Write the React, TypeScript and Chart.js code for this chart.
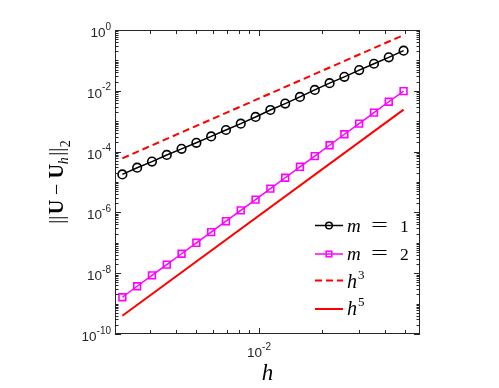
import React, { useEffect, useRef } from "react";
import { Chart, registerables } from "chart.js";

Chart.register(...registerables);

// ---- data ----
const hVals = [0.002223, 0.002616, 0.003079, 0.003623, 0.004264, 0.005019, 0.005906, 0.006951, 0.008181, 0.009628, 0.01133, 0.01334, 0.01569, 0.01847, 0.02174, 0.02558, 0.03011, 0.03543, 0.0417, 0.04908];
const errM1 = [1.78e-5, 2.95e-5, 4.68e-5, 7.76e-5, 1.23e-4, 1.95e-4, 3.16e-4, 5.13e-4, 8.32e-4, 1.38e-3, 2.34e-3, 3.8e-3, 6.31e-3, 1.07e-2, 1.78e-2, 2.88e-2, 4.79e-2, 7.76e-2, 0.126, 0.209];
const errM2 = [1.62e-9, 3.72e-9, 8.51e-9, 1.91e-8, 4.37e-8, 1.0e-7, 2.24e-7, 5.13e-7, 1.17e-6, 2.63e-6, 6.03e-6, 1.38e-5, 3.16e-5, 7.08e-5, 1.62e-4, 3.72e-4, 8.32e-4, 1.91e-3, 4.37e-3, 9.77e-3];
const refH = [0.002223, 0.04908];
const refH3 = [6.0e-5, 0.68];
const refH5 = [4.0e-10, 2.4e-3];

const xMin = 0.00205;
const xMax = 0.0588;
const yMin = 1e-10;
const yMax = 1;
const yTickExps = [0, -2, -4, -6, -8, -10];
const xTickExps = [-2];
const legendLabels = ["m = 1", "m = 2", "h^3", "h^5"];

const AXIS_COLOR = "#262626";
const SANS = '"Liberation Sans", Arial, Helvetica, sans-serif';
const SERIF = '"Liberation Serif", "Times New Roman", serif';

function pts(xs: number[], ys: number[]) {
  return xs.map((x, i) => ({ x, y: ys[i] }));
}

const axesPlugin = {
  id: "matlabAxes",
  afterDatasetsDraw(chart: any) {
    const ctx = chart.ctx as CanvasRenderingContext2D;
    const { left, right, top, bottom } = chart.chartArea;
    const xs = chart.scales.x;
    const ys = chart.scales.y;
    const majorLen = 6;
    const minorLen = 3.5;
    ctx.save();
    ctx.strokeStyle = AXIS_COLOR;
    ctx.lineWidth = 1;
    ctx.beginPath();
    for (let d = -10; d <= 0; d++) {
      for (let k = 1; k <= 9; k++) {
        const v = k * Math.pow(10, d);
        if (v > yMax * 1.0001 || v < yMin * 0.9999) continue;
        const major = k === 1 && yTickExps.includes(d);
        const len = major ? majorLen : minorLen;
        const py = Math.round(ys.getPixelForValue(v)) + 0.5;
        ctx.moveTo(left, py);
        ctx.lineTo(left + len, py);
        ctx.moveTo(right, py);
        ctx.lineTo(right - len, py);
      }
    }
    for (let d = -3; d <= -1; d++) {
      for (let k = 1; k <= 9; k++) {
        const v = k * Math.pow(10, d);
        if (v > xMax || v < xMin) continue;
        const major = k === 1 && xTickExps.includes(d);
        const len = major ? majorLen : minorLen + 0.5;
        const px = Math.round(xs.getPixelForValue(v)) + 0.5;
        ctx.moveTo(px, bottom);
        ctx.lineTo(px, bottom - len);
        ctx.moveTo(px, top);
        ctx.lineTo(px, top + len);
      }
    }
    ctx.stroke();
    ctx.strokeRect(left + 0.5, top + 0.5, right - left - 1, bottom - top - 1);
    ctx.restore();
  },
  afterDraw(chart: any) {
    const ctx = chart.ctx as CanvasRenderingContext2D;
    const { left, right, top, bottom } = chart.chartArea;
    const xs = chart.scales.x;
    const ys = chart.scales.y;
    ctx.save();
    ctx.fillStyle = AXIS_COLOR;
    ctx.textBaseline = "alphabetic";
    const baseFont = `13.5px ${SANS}`;
    const supFont = `10px ${SANS}`;
    yTickExps.forEach((e) => {
      const py = ys.getPixelForValue(Math.pow(10, e));
      const sup = String(e);
      ctx.font = supFont;
      const ws = ctx.measureText(sup).width;
      ctx.textAlign = "left";
      const xEnd = left - 4;
      ctx.fillText(sup, xEnd - ws, py - 0.5);
      ctx.font = baseFont;
      const wb = ctx.measureText("10").width;
      ctx.fillText("10", xEnd - ws - wb, py + 7);
    });
    xTickExps.forEach((e) => {
      const px = xs.getPixelForValue(Math.pow(10, e));
      const sup = String(e);
      ctx.font = supFont;
      const ws = ctx.measureText(sup).width;
      ctx.font = baseFont;
      const wb = ctx.measureText("10").width;
      const x0 = px - (wb + ws) / 2;
      ctx.textAlign = "left";
      ctx.fillText("10", x0, bottom + 23);
      ctx.font = supFont;
      ctx.fillText(sup, x0 + wb, bottom + 16);
    });
    ctx.fillStyle = "#000";
    ctx.font = `italic 23px ${SERIF}`;
    ctx.textAlign = "center";
    ctx.fillText("h", (left + right) / 2, bottom + 46);

    // y axis label: ||U - U_h||_2 (rotated)
    const segs = [
      { t: "||", f: `20px ${SERIF}`, dy: 0, gap: 1.5 },
      { t: "U", f: `bold 20px ${SERIF}`, dy: 0, gap: 0 },
      { t: " \u2212 ", f: `20px ${SERIF}`, dy: 0, gap: 0 },
      { t: "U", f: `bold 20px ${SERIF}`, dy: 0, gap: 0 },
      { t: "h", f: `italic 14px ${SERIF}`, dy: 5, gap: 1.5 },
      { t: "||", f: `20px ${SERIF}`, dy: 0, gap: 0.5 },
      { t: "2", f: `14px ${SERIF}`, dy: 7, gap: 0 },
    ];
    let total = 0;
    const widths = segs.map((s) => {
      ctx.font = s.f;
      const w = ctx.measureText(s.t).width + s.gap;
      total += w;
      return w;
    });
    ctx.save();
    ctx.translate(63, (top + bottom) / 2);
    ctx.rotate(-Math.PI / 2);
    ctx.textAlign = "left";
    let cx = -total / 2;
    segs.forEach((s, i) => {
      ctx.font = s.f;
      ctx.fillText(s.t, cx, s.dy);
      cx += widths[i];
    });
    ctx.restore();

    // legend
    const lx0 = 315;
    const lx1 = 343;
    const tx = 347;
    const lineYs = [225.5, 254, 280.5, 309];
    const baseYs = [231.5, 259.5, 287.5, 315];
    const dsets = chart.data.datasets;
    legendLabels.forEach((lab, i) => {
      const ds = dsets[i];
      const ly = lineYs[i];
      ctx.save();
      ctx.strokeStyle = ds.borderColor;
      ctx.lineWidth = ds.borderWidth;
      ctx.setLineDash(ds.borderDash || []);
      ctx.beginPath();
      ctx.moveTo(lx0, ly);
      ctx.lineTo(lx1, ly);
      ctx.stroke();
      ctx.setLineDash([]);
      const mx = (lx0 + lx1) / 2;
      if (ds.pointStyle === "circle" && ds.pointRadius > 0) {
        ctx.lineWidth = 1.5;
        ctx.beginPath();
        ctx.arc(mx, ly, 3.3, 0, Math.PI * 2);
        ctx.stroke();
      } else if (ds.pointStyle === "rect" && ds.pointRadius > 0) {
        ctx.lineWidth = 1.5;
        ctx.strokeRect(mx - 2.8, ly - 2.8, 5.6, 5.6);
      }
      ctx.restore();

      const by = baseYs[i];
      ctx.fillStyle = "#000";
      ctx.textAlign = "left";
      if (lab.startsWith("m")) {
        const parts = lab.split(" = ");
        ctx.font = `italic 19px ${SERIF}`;
        ctx.fillText(parts[0], tx, by);
        // wide TeX-like "=" sign
        ctx.save();
        ctx.font = `18px ${SERIF}`;
        const we = ctx.measureText("=").width;
        const sx = 17 / we;
        ctx.translate(379.5, by - 0.5);
        ctx.scale(sx, 1);
        ctx.textAlign = "center";
        ctx.fillText("=", 0, 0);
        ctx.restore();
        ctx.textAlign = "left";
        ctx.font = `17.5px ${SERIF}`;
        ctx.fillText(parts[1], 400, by);
      } else {
        const parts = lab.split("^");
        ctx.font = `italic 20px ${SERIF}`;
        ctx.fillText(parts[0], tx, by);
        const wh = ctx.measureText(parts[0]).width;
        ctx.font = `13px ${SERIF}`;
        ctx.fillText(parts[1], tx + wh + 1, by - 9);
      }
    });
    ctx.restore();
  },
};

export default function App() {
  const ref = useRef<HTMLCanvasElement | null>(null);
  useEffect(() => {
    if (!ref.current) return;
    const chart = new Chart(ref.current, {
      type: "line",
      data: {
        datasets: [
          {
            label: "m = 1",
            data: pts(hVals, errM1),
            borderColor: "#000000",
            backgroundColor: "rgba(0,0,0,0)",
            borderWidth: 1.5,
            pointStyle: "circle",
            pointRadius: 4.3,
            pointBorderWidth: 1.6,
            pointBackgroundColor: "rgba(0,0,0,0)",
            pointBorderColor: "#000000",
          },
          {
            label: "m = 2",
            data: pts(hVals, errM2),
            borderColor: "#ff00ff",
            backgroundColor: "rgba(0,0,0,0)",
            borderWidth: 1.5,
            pointStyle: "rect",
            pointRadius: 4.8,
            pointBorderWidth: 1.6,
            pointBackgroundColor: "rgba(0,0,0,0)",
            pointBorderColor: "#ff00ff",
          },
          {
            label: "h^3",
            data: pts(refH, refH3),
            borderColor: "#ff0000",
            backgroundColor: "rgba(0,0,0,0)",
            borderWidth: 2,
            borderDash: [7, 4],
            pointRadius: 0,
          },
          {
            label: "h^5",
            data: pts(refH, refH5),
            borderColor: "#ff0000",
            backgroundColor: "rgba(0,0,0,0)",
            borderWidth: 2,
            pointRadius: 0,
          },
        ],
      },
      options: {
        responsive: false,
        animation: false,
        devicePixelRatio: 1,
        layout: { padding: { left: 115, right: 79, top: 30, bottom: 54 } },
        plugins: {
          legend: { display: false },
          tooltip: { enabled: false },
          title: { display: false },
        },
        elements: { line: { tension: 0 } },
        scales: {
          x: { type: "logarithmic", min: xMin, max: xMax, display: false },
          y: { type: "logarithmic", min: yMin, max: yMax, display: false },
        },
      },
      plugins: [axesPlugin],
    } as any);
    return () => chart.destroy();
  }, []);
  return (
    <div style={{ position: "absolute", left: 0, top: 0, width: 499, height: 388, background: "#fff" }}>
      <canvas ref={ref} width={499} height={388} style={{ width: 499, height: 388, display: "block" }} />
    </div>
  );
}
